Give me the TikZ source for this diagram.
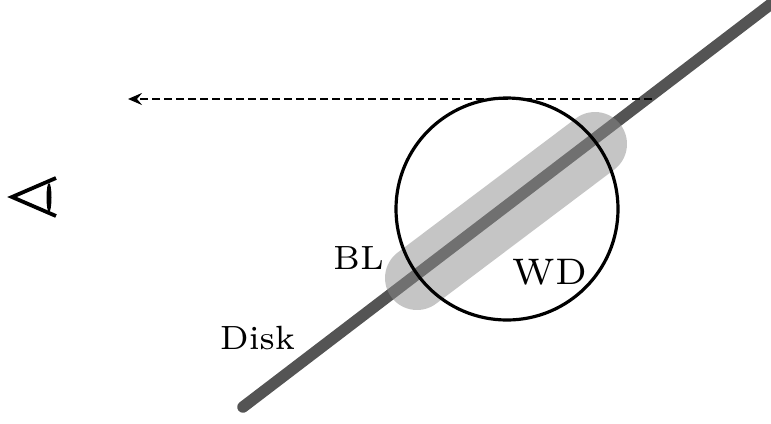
\documentclass[tikz,border=0pt]{standalone}
\usetikzlibrary{arrows.meta}

\tikzset{
  lbl/.style={font=\fontsize{7}{8}\selectfont, scale=4.8, anchor=base, inner sep=0pt},
}

\begin{document}
\begin{tikzpicture}[x=1pt, y=-1pt]
        \clip (0, 0) rectangle (771, 423);

        \coordinate (d0) at (243, 407);
        \coordinate (d1) at (790, -10.5);
        \coordinate (bl) at (417, 278);
        \coordinate (wd) at (595, 144);
        \coordinate (c) at (507, 209);
        \coordinate (hit) at (652, 99);
        \coordinate (view) at (128, 99);

        \draw[line width=11.5pt, line cap=round, black!67] (d0) -- (d1);
        \draw[line width=64pt, line cap=round, black!45, opacity=.5] (bl) -- (wd);
        \draw[line width=3.2pt] (c) circle [radius=111pt];
        \draw[line width=2.8pt, dash pattern=on 8pt off 4pt, -{Stealth[length=14pt, width=12pt, inset=5pt]}] (hit) -- (view);

        % eye
        \draw[line width=3.8pt, line join=miter] (56, 178) -- (12, 197) -- (56, 216);
        \fill (49, 197.5) ellipse [x radius=2.5pt, y radius=14.5pt];

        \node[lbl] (bltext) at (358.5, 269) {BL};
        \node[lbl, scale=1.1] (wdtext) at (550, 284) {WD};
        \node[lbl] (disktext) at (257.5, 349) {Disk};
\end{tikzpicture}
\end{document}
